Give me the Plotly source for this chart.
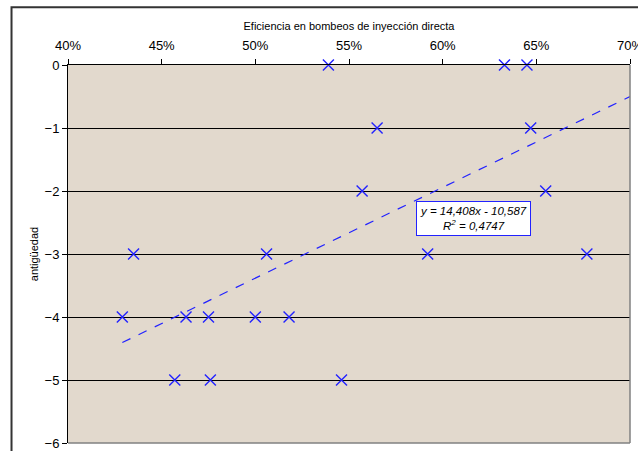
import plotly.graph_objects as go

# Data
eficiencia = [0.539, 0.633, 0.645,
              0.565, 0.647,
              0.557, 0.655,
              0.435, 0.506, 0.592, 0.677,
              0.429, 0.463, 0.475, 0.500, 0.518,
              0.457, 0.476, 0.546]
antiguedad = [0, 0, 0,
              -1, -1,
              -2, -2,
              -3, -3, -3, -3,
              -4, -4, -4, -4, -4,
              -5, -5, -5]

# Linear trend line as reported on the chart
slope = 14.408
intercept = -10.587
trend_x = [min(eficiencia), 0.70]
trend_y = [slope * x + intercept for x in trend_x]

x_ticks = [0.40, 0.45, 0.50, 0.55, 0.60, 0.65, 0.70]
y_ticks = [0, -1, -2, -3, -4, -5, -6]

FONT = "Arial, Liberation Sans, sans-serif"
BLUE = "#2222ff"

fig = go.Figure()
fig.add_trace(go.Scatter(
    x=trend_x, y=trend_y, mode="lines",
    line=dict(color=BLUE, width=1.2, dash="dash"),
    hoverinfo="skip", showlegend=False, cliponaxis=False))
fig.add_trace(go.Scatter(
    x=eficiencia, y=antiguedad, mode="markers",
    marker=dict(symbol="x-thin", size=11, line=dict(color=BLUE, width=1.4)),
    showlegend=False, cliponaxis=False))

fig.update_layout(
    width=638, height=451,
    margin=dict(l=67.5, r=8.3, t=65, b=8, autoexpand=False),
    paper_bgcolor="white",
    plot_bgcolor="#e2d9cd",
    font=dict(family=FONT, size=12, color="black"),
    xaxis=dict(
        side="top", range=[0.40, 0.70], tickvals=x_ticks, tickformat=".0%",
        ticks="outside", ticklen=5, tickcolor="black", tickwidth=1,
        ticklabelstandoff=4, ticklabeloverflow="allow",
        showgrid=False, zeroline=False,
        showline=True, linecolor="black", linewidth=1,
        tickfont=dict(size=13, family=FONT),
        title=dict(text="Eficiencia en bombeos de inyección directa",
                   font=dict(size=11, family=FONT), standoff=4),
    ),
    yaxis=dict(
        range=[-6, 0], tickvals=y_ticks, ticks="outside", ticklen=5,
        tickcolor="black", tickwidth=1,
        showgrid=True, gridcolor="black", gridwidth=1, zeroline=False,
        showline=True, linecolor="black", linewidth=1,
        tickfont=dict(size=13, family=FONT),
        title=dict(text="antigüedad", font=dict(size=11, family=FONT), standoff=3),
    ),
    shapes=[
        # plot area right/bottom border
        dict(type="line", xref="paper", yref="paper", x0=1, x1=1, y0=0, y1=1,
             line=dict(color="#808080", width=1.5)),
        dict(type="line", xref="paper", yref="paper", x0=0, x1=1, y0=0, y1=0,
             line=dict(color="#808080", width=1.5)),
        # outer chart frame
        dict(type="rect", xref="paper", yref="paper", x0=-0.1005, x1=1.2,
             y0=-0.3, y1=1.153, line=dict(color="#333333", width=2),
             layer="below"),
    ],
    annotations=[
        dict(x=0.6165, y=-2.44, xref="x", yref="y",
             text="<i>y = 14,408x - 10,587<br>R<sup>2</sup> = 0,4747</i>",
             showarrow=False, bgcolor="white", bordercolor=BLUE, borderwidth=1,
             borderpad=3, font=dict(size=11.5, family=FONT, color="black"),
             align="center"),
    ],
)

fig.write_html("out.html")
